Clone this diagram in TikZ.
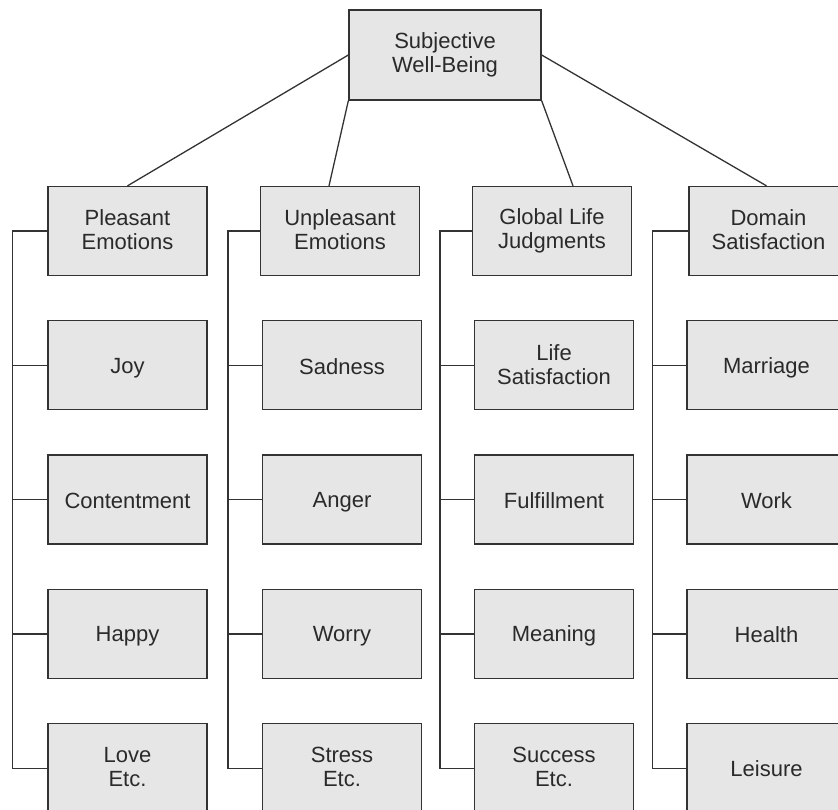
\documentclass[tikz,border=0pt]{standalone}
\usepackage{fontspec}
\setmainfont{Liberation Sans}
\usetikzlibrary{positioning}
\definecolor{linha}{HTML}{333333}
\definecolor{fundo}{HTML}{E6E6E6}
\definecolor{texto}{HTML}{2A2A2A}
\newcommand{\escora}{\rule[-2.5pt]{0pt}{22.5pt}}

\begin{document}
\begin{tikzpicture}
            [
                x=1pt, y=-1pt,
                node distance=44pt,
                caixa/.style={rectangle, draw=linha, fill=fundo, line width=1.3pt,
                    minimum width=159pt, minimum height=89pt, inner sep=0pt,
                    align=center, text=texto, font=\fontsize{22}{24}\selectfont,
                    execute at begin node=\escora, execute at end node=\escora},
                topo/.style={caixa, minimum width=192pt, minimum height=90pt},
                liga/.style={draw=linha, line width=1.3pt},
            ]
            %obs: \usetikzlibrary{positioning}
            \useasboundingbox (0,0) rectangle (838,810);
            \node[topo] (swb) at (445,55) {Subjective\\Well-Being};
            % categorias
            \node[caixa] (pe) at (127.5,231) {Pleasant\\Emotions};
            \node[caixa] (ue) at (340,231) {Unpleasant\\Emotions};
            \node[caixa] (gl) at (552,231) {Global Life\\Judgments};
            \node[caixa] (ds) at (768.5,231) {Domain\\Satisfaction};
            % emocoes agradaveis
            \node[caixa] (joy) [below=of pe] {Joy};
            \node[caixa] (cont) [below=of joy] {Contentment};
            \node[caixa] (happy) [below=of cont] {Happy};
            \node[caixa] (love) [below=of happy] {Love\\Etc.};
            % emocoes desagradaveis
            \node[caixa] (sad) [below=of ue, xshift=2pt] {Sadness};
            \node[caixa] (anger) [below=of sad] {Anger};
            \node[caixa] (worry) [below=of anger] {Worry};
            \node[caixa] (stress) [below=of worry] {Stress\\Etc.};
            % julgamentos globais
            \node[caixa] (lifesat) [below=of gl, xshift=2pt] {Life\\Satisfaction};
            \node[caixa] (fulfil) [below=of lifesat] {Fulfillment};
            \node[caixa] (meaning) [below=of fulfil] {Meaning};
            \node[caixa] (success) [below=of meaning] {Success\\Etc.};
            % satisfacao por dominio
            \node[caixa] (marriage) [below=of ds, xshift=-2pt] {Marriage};
            \node[caixa] (work) [below=of marriage] {Work};
            \node[caixa] (health) [below=of work] {Health};
            \node[caixa] (leisure) [below=of health] {Leisure};
            % ligacoes do topo
            \draw[liga] (swb.west) -- (pe.north);
            \draw[liga] (swb.south west) -- ([xshift=-11pt]ue.north);
            \draw[liga] (swb.south east) -- ([xshift=21pt]gl.north);
            \draw[liga] (swb.east) -- ([xshift=-2pt]ds.north);
            % colchetes
            \draw[liga] (pe.west) -- ++(-35,0) |- (love.west);
            \draw[liga] (ue.west) -- ++(-32,0) |- (stress.west);
            \draw[liga] (gl.west) -- ++(-32,0) |- (success.west);
            \draw[liga] (ds.west) -- ++(-36,0) |- (leisure.west);
            \foreach \n in {joy,cont,happy,sad,anger,worry,lifesat,fulfil,meaning,marriage,work,health}
                \draw[liga] (\n.west) -- ++(-34,0);
        \end{tikzpicture}
\end{document}
